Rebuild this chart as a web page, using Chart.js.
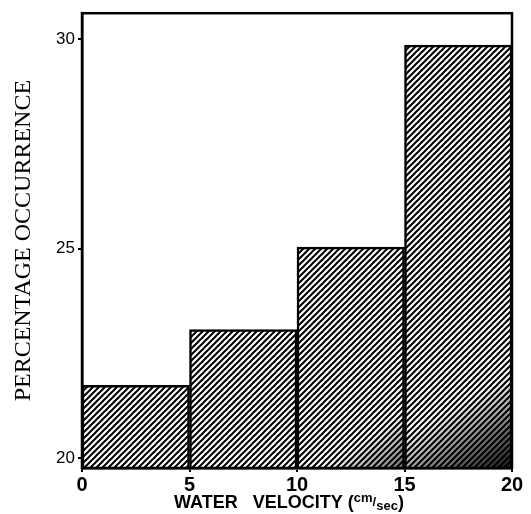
<!DOCTYPE html>
<html><head><meta charset="utf-8">
<script src="https://cdn.jsdelivr.net/npm/chart.js@4.4.0/dist/chart.umd.min.js"></script>
<style>html,body{margin:0;padding:0;background:#fff}#wrap{width:531px;height:514px}</style>
</head><body><div id="wrap"><canvas id="c" width="531" height="514"></canvas></div>
<script>
const categories = ['0-5', '5-10', '10-15', '15-20'];
const percentages = [21.74, 23.07, 25.04, 29.86];
const xTickValues = [0, 5, 10, 15, 20];
const yTickValues = [20, 25, 30];
const yTitle = 'PERCENTAGE OCCURRENCE';
const xTitleMain = 'WATER   VELOCITY (';
const xTitleUnitTop = 'cm';
const xTitleUnitBottom = 'sec';

function hatch() {
  const s = 6;
  const c = document.createElement('canvas');
  c.width = s; c.height = s;
  const g = c.getContext('2d');
  g.fillStyle = '#fff'; g.fillRect(0, 0, s, s);
  g.strokeStyle = '#000'; g.lineWidth = 2;
  g.beginPath();
  g.moveTo(-1, s + 1); g.lineTo(s + 1, -1);
  g.moveTo(-1, 1); g.lineTo(1, -1);
  g.moveTo(s - 1, s + 1); g.lineTo(s + 1, s - 1);
  g.stroke();
  return document.getElementById('c').getContext('2d').createPattern(c, 'repeat');
}

const framePlugin = {
  id: 'frame',
  afterDatasetsDraw(chart) {
    const a = chart.chartArea, ctx = chart.ctx;
    const xs = chart.scales.x, ys = chart.scales.y;
    ctx.save();
    // print-scan darkening towards the lower right of the last bars
    const step = (xs.getPixelForValue(1) - xs.getPixelForValue(0));
    [[3, 0.92, 0.3, 130], [2, 0.55, 0.55, 70]].forEach(([i, alpha, fx, depth]) => {
      const cx = xs.getPixelForValue(i);
      const l = cx - step / 2, r = cx + step / 2;
      const top = ys.getPixelForValue(percentages[i]), b = a.bottom, h = b - top;
      const gr = ctx.createLinearGradient(l + step * fx, b - depth, r, b);
      gr.addColorStop(0, 'rgba(0,0,0,0)');
      gr.addColorStop(0.45, 'rgba(0,0,0,0)');
      gr.addColorStop(0.75, 'rgba(0,0,0,' + (alpha * 0.6) + ')');
      gr.addColorStop(1, 'rgba(0,0,0,' + alpha + ')');
      ctx.fillStyle = gr;
      ctx.fillRect(l, top, r - l, h);
    });
    ctx.strokeStyle = '#000'; ctx.lineWidth = 2.5;
    ctx.strokeRect(a.left, a.top, a.right - a.left, a.bottom - a.top);
    ctx.restore();
  },
  afterDraw(chart) {
    const ctx = chart.ctx;
    ctx.save();
    ctx.fillStyle = '#000';
    ctx.textBaseline = 'alphabetic';
    const big = 'bold 18px "Liberation Sans", Arial, sans-serif';
    const small = 'bold 13px "Liberation Sans", Arial, sans-serif';
    ctx.font = big; const w1 = ctx.measureText(xTitleMain).width; const wp = ctx.measureText(')').width;
    ctx.font = small; const w2 = ctx.measureText(xTitleUnitTop).width; const ws = ctx.measureText('/').width; const w3 = ctx.measureText(xTitleUnitBottom).width;
    const total = w1 + w2 + ws + w3 + wp;
    let x = 289 - total / 2; const base = 508;
    ctx.font = big; ctx.fillText(xTitleMain, x, base); x += w1;
    ctx.font = small; ctx.fillText(xTitleUnitTop, x, base - 6); x += w2;
    ctx.fillText('/', x, base - 2); x += ws;
    ctx.fillText(xTitleUnitBottom, x, base + 2); x += w3;
    ctx.font = big; ctx.fillText(')', x, base);
    ctx.restore();
  }
};

new Chart(document.getElementById('c'), {
  type: 'bar',
  data: {
    labels: categories,
    datasets: [{
      data: percentages,
      backgroundColor: hatch(),
      borderColor: '#000',
      borderWidth: 2.5,
      borderSkipped: false,
      barPercentage: 1,
      categoryPercentage: 1,
      xAxisID: 'x'
    }]
  },
  options: {
    responsive: false,
    devicePixelRatio: 1,
    animation: false,
    layout: { padding: { top: 11, right: 19, left: 0, bottom: 0 } },
    plugins: { legend: { display: false }, tooltip: { enabled: false } },
    scales: {
      x: { display: false, offset: true },
      x2: {
        type: 'linear', position: 'bottom', min: 0, max: 20, offset: false,
        afterBuildTicks(s) { s.ticks = xTickValues.map(v => ({ value: v })); },
        afterFit(s) { s.height = 46; },
        grid: { offset: false, drawOnChartArea: false, drawTicks: true, tickLength: 4, color: '#000', lineWidth: 2 },
        border: { display: true, color: '#000', width: 2.5 },
        ticks: { color: '#000', padding: 1, maxRotation: 0, font: { family: '"Liberation Sans", Arial, sans-serif', size: 20, weight: 'bold' } },
        title: { display: false }
      },
      y: {
        min: 19.77, max: 30.62,
        afterBuildTicks(s) { s.ticks = yTickValues.map(v => ({ value: v })); },
        afterFit(s) { s.width = 82; },
        grid: { drawOnChartArea: false, drawTicks: true, tickLength: 4, color: '#000', lineWidth: 2 },
        border: { display: true, color: '#000', width: 2.5 },
        ticks: { color: '#000', padding: 3, font: { family: '"Liberation Sans", Arial, sans-serif', size: 17 } },
        title: { display: true, text: yTitle, color: '#000', padding: { top: 9, bottom: 0 }, font: { family: '"Liberation Serif", "Times New Roman", serif', size: 24, weight: 'normal' } }
      }
    }
  },
  plugins: [framePlugin]
});
</script>
</body></html>
